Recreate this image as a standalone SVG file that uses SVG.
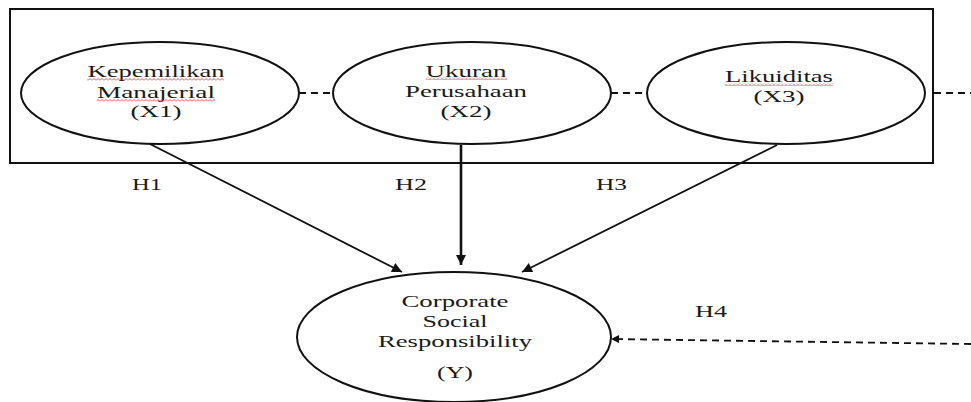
<svg xmlns="http://www.w3.org/2000/svg" width="971" height="402" viewBox="0 0 971 402">
<style>
.bg{fill:#fff}
.node{fill:#fff;stroke:#111;stroke-width:2}
.frame{fill:none;stroke:#111;stroke-width:2}
.t{font-family:"Liberation Serif","Times New Roman",serif;font-size:17px;fill:#1a1a1a;text-anchor:middle}
.h{font-family:"Liberation Serif","Times New Roman",serif;font-size:16px;fill:#1a1a1a}
.arrow{stroke:#111;stroke-width:1.8;fill:none}
.arrow-thick{stroke:#111;stroke-width:2.6;fill:none}
.dash{stroke:#111;stroke-width:1.8;fill:none;stroke-dasharray:7 5}
.sq{fill:url(#squiggle)}
</style>
<defs>
<marker id="ah" viewBox="0 0 10 10" refX="10" refY="5" markerWidth="14" markerHeight="10" markerUnits="userSpaceOnUse" orient="auto">
<path d="M0,0 L10,5 L0,10 z" fill="#111"/>
</marker>
<marker id="ahs" viewBox="0 0 10 10" refX="10" refY="5" markerWidth="12" markerHeight="8" markerUnits="userSpaceOnUse" orient="auto">
<path d="M0,0 L10,5 L0,10 z" fill="#111"/>
</marker>
<pattern id="squiggle" x="0" y="0" width="4" height="3" patternUnits="userSpaceOnUse">
<path d="M0,2.5 L2,0.5 L4,2.5" stroke="#e02020" stroke-width="0.8" fill="none"/>
</pattern>
</defs>
<rect class="bg" x="0" y="0" width="971" height="402"/>

<g id="frame">
<rect class="frame" x="10" y="9" width="923" height="154"/>
</g>

<g id="connectors">
<line class="dash" x1="299" y1="93" x2="333" y2="93"/>
<line class="dash" x1="611" y1="93" x2="647" y2="93"/>
<line class="dash" x1="934" y1="93" x2="971" y2="93"/>
<line class="arrow" x1="150" y1="144" x2="402" y2="272" marker-end="url(#ah)"/>
<line class="arrow-thick" x1="461" y1="145" x2="461" y2="265" marker-end="url(#ah)"/>
<line class="arrow" x1="777" y1="145" x2="522" y2="272" marker-end="url(#ah)"/>
<line class="dash" x1="971" y1="344" x2="611" y2="339" marker-end="url(#ahs)"/>
<text class="h" x="132" y="190" textLength="30" lengthAdjust="spacingAndGlyphs">H1</text>
<text class="h" x="395" y="190" textLength="32" lengthAdjust="spacingAndGlyphs">H2</text>
<text class="h" x="596" y="190" textLength="31" lengthAdjust="spacingAndGlyphs">H3</text>
<text class="h" x="695" y="317" textLength="32" lengthAdjust="spacingAndGlyphs">H4</text>
</g>

<g id="node-x1">
<ellipse class="node" cx="160" cy="93" rx="139" ry="51"/>
<text class="t" x="156" y="77" textLength="137" lengthAdjust="spacingAndGlyphs">Kepemilikan</text>
<text class="t" x="156" y="98" textLength="118" lengthAdjust="spacingAndGlyphs">Manajerial</text>
<text class="t" x="156" y="117" textLength="51" lengthAdjust="spacingAndGlyphs">(X1)</text>
<rect class="sq" x="87" y="78" width="137" height="3"/>
<rect class="sq" x="97" y="99" width="118" height="3"/>
</g>

<g id="node-x2">
<ellipse class="node" cx="472" cy="93" rx="139" ry="51"/>
<text class="t" x="466" y="77" textLength="81" lengthAdjust="spacingAndGlyphs">Ukuran</text>
<text class="t" x="466" y="97" textLength="122" lengthAdjust="spacingAndGlyphs">Perusahaan</text>
<text class="t" x="466" y="117" textLength="51" lengthAdjust="spacingAndGlyphs">(X2)</text>
<rect class="sq" x="426" y="77" width="81" height="3"/>
</g>

<g id="node-x3">
<ellipse class="node" cx="786" cy="93" rx="139" ry="51"/>
<text class="t" x="779" y="82" textLength="108" lengthAdjust="spacingAndGlyphs">Likuiditas</text>
<text class="t" x="779" y="102" textLength="51" lengthAdjust="spacingAndGlyphs">(X3)</text>
<rect class="sq" x="725" y="83" width="108" height="3"/>
</g>

<g id="node-y">
<ellipse class="node" cx="454" cy="337" rx="157" ry="65"/>
<text class="t" x="455" y="307" textLength="107" lengthAdjust="spacingAndGlyphs">Corporate</text>
<text class="t" x="455" y="327" textLength="65" lengthAdjust="spacingAndGlyphs">Social</text>
<text class="t" x="455" y="347" textLength="154" lengthAdjust="spacingAndGlyphs">Responsibility</text>
<text class="t" x="455" y="378" textLength="36" lengthAdjust="spacingAndGlyphs">(Y)</text>
</g>
</svg>
